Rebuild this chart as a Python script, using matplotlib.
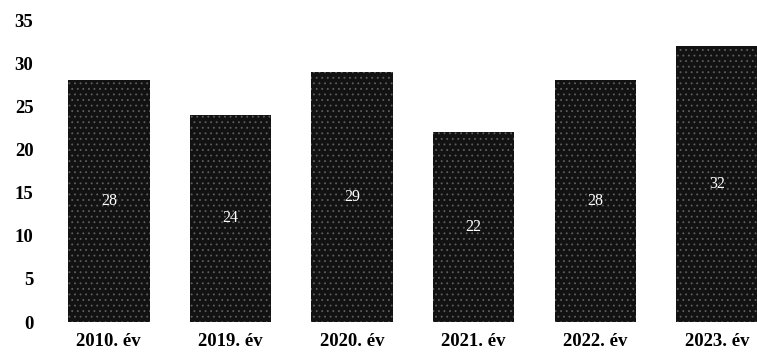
import matplotlib.pyplot as plt

# data
years = ["2010. év", "2019. év", "2020. év", "2021. év", "2022. év", "2023. év"]
values = [28, 24, 29, 22, 28, 32]

plt.rcParams["hatch.linewidth"] = 0.6

fig = plt.figure(figsize=(7.57, 3.56), dpi=100)
ax = fig.add_axes([0.0634, 0.0955, 0.9366, 0.8483])

x = range(len(years))
bars = ax.bar(x, values, width=0.67, color="#121212", edgecolor="#5e5e5e",
              linewidth=0, hatch="...")

for b, v in zip(bars, values):
    ax.text(b.get_x() + b.get_width() / 2, v / 2, str(v), color="white",
            ha="center", va="center", fontsize=11.5, family="Liberation Serif")

ax.set_xlim(-0.5, 5.33)
ax.set_ylim(0, 35)
ax.set_yticks(range(0, 36, 5))
ax.set_xticks(list(x))
ax.set_xticklabels(years)

for s in ax.spines.values():
    s.set_visible(False)
ax.tick_params(axis="y", length=0, pad=10.5)
ax.tick_params(axis="x", length=0, pad=8)
for lbl in ax.get_yticklabels() + ax.get_xticklabels():
    lbl.set_family("Liberation Serif")
    lbl.set_fontweight("bold")
    lbl.set_fontsize(13.5)

fig.savefig("out.png", dpi=100)
